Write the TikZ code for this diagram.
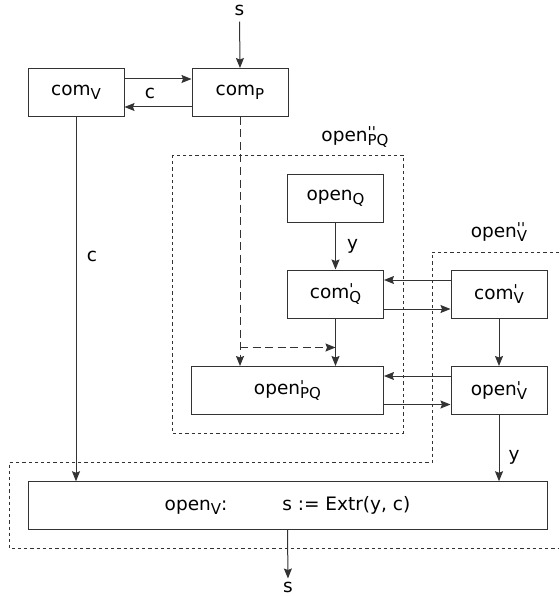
\documentclass[tikz,border=0pt]{standalone}
\usepackage{fontspec}
\newfontfamily\dv{DejaVu Sans}
\usetikzlibrary{arrows.meta}
% subscript size and a label with an optional prime above the subscript
\newcommand\subsz{\fontsize{15}{15}\selectfont}
\newcommand\lb[3]{#1\rlap{\raisebox{3.6pt}{\subsz #2}}\raisebox{-4pt}{\subsz #3}}
\definecolor{ink}{HTML}{333333}
\tikzset{
  box/.style={draw=ink, line width=1pt, minimum width=96pt, minimum height=48pt, inner sep=0pt},
  arr/.style={draw=ink, line width=1pt, -{Stealth[length=10pt,width=8pt,inset=1.5pt]}},
  dsh/.style={dash pattern=on 8pt off 4.5pt},
  dotbox/.style={draw=ink, line width=0.9pt, dash pattern=on 3.2pt off 3pt},
  txt/.style={inner sep=0pt}
}
\begin{document}
\begin{tikzpicture}[x=1pt, y=-1pt, font=\dv\fontsize{18.5}{21}\selectfont]
\useasboundingbox (0,0) rectangle (559,596);

% boxes
\node[box] (comV) at (76,92.5) {\lb{com}{}{V}};
\node[box] (comP) at (240,92.5) {\lb{com}{}{P}};
\node[box] (openQ) at (335.5,198) {\lb{open}{}{Q}};
\node[box] (comQ) at (335.5,294) {\lb{com}{'}{Q}};
\node[box, minimum width=192pt] (openPQ) at (287.5,390.5) {\lb{open}{'}{PQ}};
\node[box] (comVp) at (499,294) {\lb{com}{'}{V}};
\node[box] (openVp) at (499,390.5) {\lb{open}{'}{V}};
\node[box, minimum width=519pt, minimum height=47.5pt] (openV) at (287.5,505.5)
  {\lb{open}{}{V}:\hspace{55pt}s := Extr(y, c)\hspace{15pt}};

% dotted regions
\draw[dotbox] (172.5,155) rectangle (403,433.5);
\node[txt] (lblPQ) at (355,137) {\lb{open}{''}{PQ}};
\draw[dotbox] (559,252) -- (432,252) -- (432,462.5) -- (9,462.5) -- (9,548.5) -- (559,548.5);
\node[txt] (lblV) at (499,232) {\lb{open}{''}{V}};

% input and output
\node[txt] (sin) at (239.5,10) {s};
\node[txt] (sout) at (288,587) {s};
\draw[arr, shorten <=6pt] (sin.south) -- (comP.north);
\draw[arr, shorten >=3pt] (openV.south) -- (sout.north);

% commitment exchange
\draw[arr] ([yshift=13.5pt]comV.east) -- ([yshift=13.5pt]comP.west);
\draw[arr] ([yshift=-14.5pt]comP.west) -- ([yshift=-14.5pt]comV.east);
\node[txt] (c1) at (150,93) {c};

% c down to the final box
\draw[arr] (comV.south) -- (comV.south |- openV.north);
\node[txt] (c2) at (92,256) {c};

% dashed path from comP
\draw[arr, dsh] (comP.south) -- (comP.south |- openPQ.north);
\coordinate (br) at (240,347.5);
\draw[arr, dsh] (br) -- (br -| comQ.south);

% inner chain
\draw[arr] (openQ) -- (comQ);
\node[txt] (y1) at (352.5,246) {y};
\draw[arr] (comQ.south) -- (comQ.south |- openPQ.north);

% exchange with the right column
\draw[arr] ([yshift=14pt]comVp.west) -- ([yshift=14pt]comQ.east);
\draw[arr] ([yshift=-15pt]comQ.east) -- ([yshift=-15pt]comVp.west);
\draw[arr] ([yshift=14.5pt]openVp.west) -- ([yshift=14.5pt]openPQ.east);
\draw[arr] ([yshift=-14pt]openPQ.east) -- ([yshift=-14pt]openVp.west);
\draw[arr] (comVp) -- (openVp);

% y down to the final box
\draw[arr] (openVp.south) -- (openVp.south |- openV.north);
\node[txt] (y2) at (514,457) {y};
\end{tikzpicture}
\end{document}
